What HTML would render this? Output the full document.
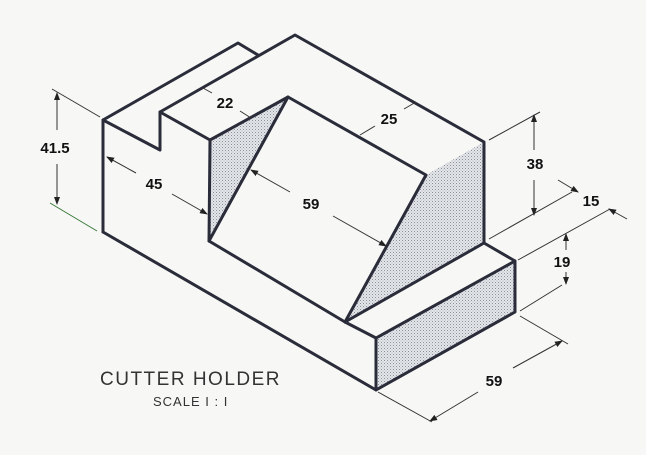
<!DOCTYPE html>
<html><head><style>
html,body{margin:0;padding:0;background:#f7f7f5;}
svg{display:block}
text{font-family:"Liberation Sans",Arial,sans-serif;}
</style></head><body>
<svg width="646" height="455" viewBox="0 0 646 455" xmlns="http://www.w3.org/2000/svg">
<defs>
<pattern id="dots" width="3" height="3" patternUnits="userSpaceOnUse">
<rect width="3" height="3" fill="#e4e6ea"/>
<rect width="1" height="1" fill="#8a909a"/>
<rect x="1.5" y="1.5" width="1" height="1" fill="#a8acb4"/>
</pattern>
<marker id="ar" markerWidth="8" markerHeight="6" refX="7" refY="3" orient="auto" markerUnits="userSpaceOnUse">
<path d="M0,0 L8,3 L0,6 z" fill="#222"/>
</marker>
</defs>
<rect width="646" height="455" fill="#f7f7f5"/>
<polygon points="210,140 288,97 209,241" fill="url(#dots)"/>
<polygon points="426,175 484,142 484,243 345,322" fill="url(#dots)"/>
<polygon points="376,338 515,262 515,312 376,390" fill="url(#dots)"/>
<g stroke="#2a2c3a" stroke-width="3" fill="none" stroke-linejoin="round" stroke-linecap="round">
<polyline points="103,232 103,120 238,43 258,55"/>
<polyline points="103,120 160,150 160,112 295,35 484,142 484,243 515,261 515,312 376,390 103,232"/>
<polyline points="160,112 210,140 288,97 426,175 345,322 376,338 515,261"/>
<polyline points="210,140 209,241 345,322"/>
<line x1="288" y1="97" x2="209" y2="241"/>
<line x1="345" y1="322" x2="484" y2="243"/>
<line x1="376" y1="338" x2="376" y2="390"/>
</g>
<g stroke="#333" stroke-width="1" fill="none">
<line x1="52" y1="89" x2="100" y2="117"/>
<line x1="50" y1="203" x2="97" y2="231" stroke="#3a7a3a"/>
<line x1="57" y1="130" x2="57" y2="93" marker-end="url(#ar)"/>
<line x1="57" y1="164" x2="57" y2="204" marker-end="url(#ar)"/>
<line x1="136" y1="173" x2="107" y2="157" marker-end="url(#ar)"/>
<line x1="172" y1="194" x2="207" y2="214" marker-end="url(#ar)"/>
<line x1="212" y1="93" x2="203" y2="88"/>
<line x1="240" y1="111" x2="251" y2="118"/>
<line x1="290" y1="192" x2="251" y2="170" marker-end="url(#ar)"/>
<line x1="333" y1="216" x2="386" y2="246" marker-end="url(#ar)"/>
<line x1="375" y1="126" x2="360" y2="135"/>
<line x1="404" y1="109" x2="416" y2="102"/>
<line x1="489" y1="140" x2="540" y2="112"/>
<line x1="489" y1="239" x2="572" y2="192"/>
<line x1="534" y1="150" x2="534" y2="115" marker-end="url(#ar)"/>
<line x1="534" y1="180" x2="534" y2="215" marker-end="url(#ar)"/>
<line x1="558" y1="180" x2="578" y2="192" marker-end="url(#ar)"/>
<line x1="518" y1="260" x2="610" y2="209"/>
<line x1="627" y1="219" x2="609" y2="209" marker-end="url(#ar)"/>
<line x1="566" y1="250" x2="566" y2="234" marker-end="url(#ar)"/>
<line x1="566" y1="272" x2="566" y2="284" marker-end="url(#ar)"/>
<line x1="520" y1="311" x2="562" y2="285"/>
<line x1="378" y1="392" x2="432" y2="422"/>
<line x1="520" y1="316" x2="568" y2="344"/>
<line x1="478" y1="392" x2="430" y2="421" marker-end="url(#ar)"/>
<line x1="513" y1="368" x2="562" y2="341" marker-end="url(#ar)"/>
</g>
<g font-weight="bold" font-size="15" fill="#111" text-anchor="middle">
<text x="55" y="153">41.5</text>
<text x="154" y="189">45</text>
<text x="225" y="108">22</text>
<text x="311" y="209">59</text>
<text x="389" y="124">25</text>
<text x="535" y="169">38</text>
<text x="591" y="206">15</text>
<text x="562" y="267">19</text>
<text x="494" y="386">59</text>
</g>
<text x="100" y="385" font-size="19" fill="#333" letter-spacing="1.5">CUTTER HOLDER</text>
<text x="153" y="406" font-size="13" fill="#333" letter-spacing="1">SCALE I : I</text>
</svg>
</body></html>
